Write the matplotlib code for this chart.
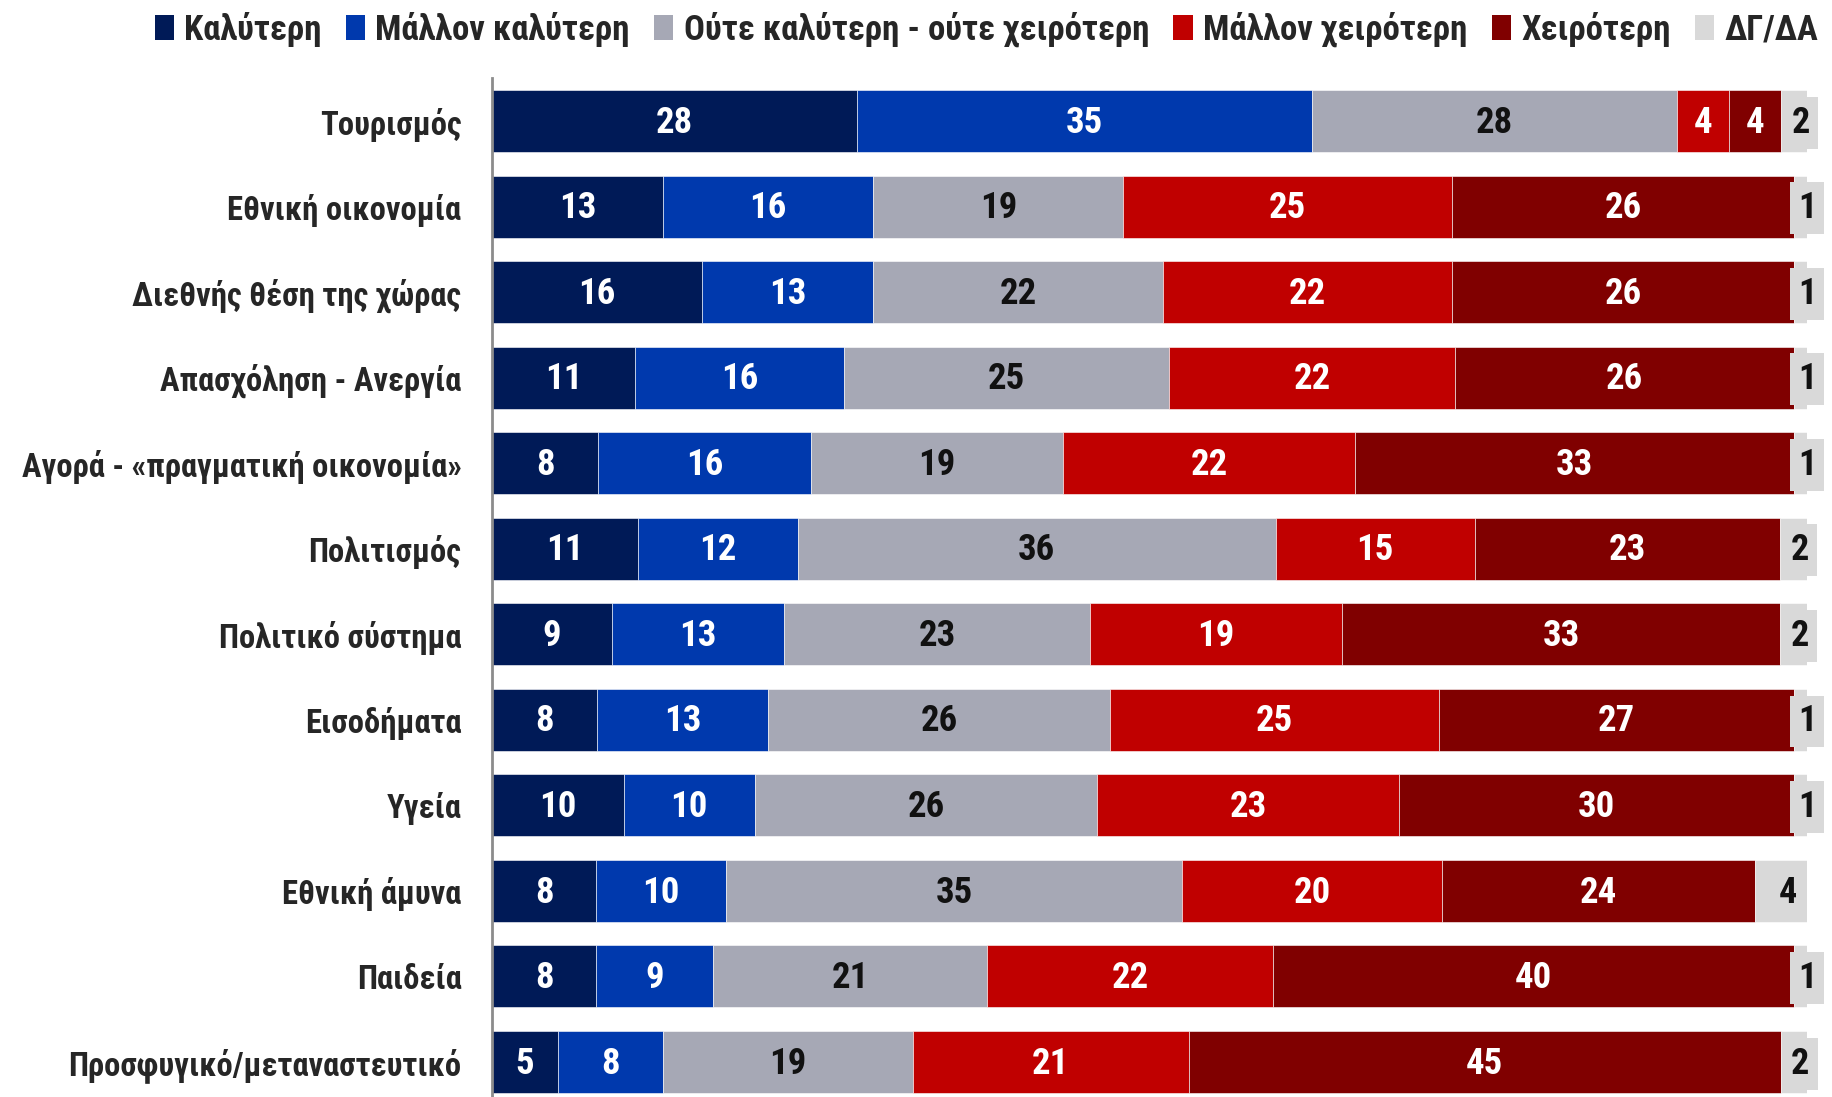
import matplotlib

matplotlib.use("Agg")
import matplotlib.pyplot as plt
from matplotlib.patches import Patch
import numpy as np

# narrow sans with Greek; falls back to DejaVu for anything missing
plt.rcParams["font.family"] = ["Roboto Condensed", "Open Sans Condensed",
                               "Liberation Sans Narrow", "DejaVu Sans"]

categories = [
    "Τουρισμός",
    "Εθνική οικονομία",
    "Διεθνής θέση της χώρας",
    "Απασχόληση - Ανεργία",
    "Αγορά - «πραγματική οικονομία»",
    "Πολιτισμός",
    "Πολιτικό σύστημα",
    "Εισοδήματα",
    "Υγεία",
    "Εθνική άμυνα",
    "Παιδεία",
    "Προσφυγικό/μεταναστευτικό",
]
series_names = ["Καλύτερη", "Μάλλον καλύτερη", "Ούτε καλύτερη - ούτε χειρότερη",
                "Μάλλον χειρότερη", "Χειρότερη", "ΔΓ/ΔΑ"]

better = [28, 13, 16, 11, 8, 11, 9, 8, 10, 8, 8, 5]
rather_better = [35, 16, 13, 16, 16, 12, 13, 13, 10, 10, 9, 8]
neither = [28, 19, 22, 25, 19, 36, 23, 26, 26, 35, 21, 19]
rather_worse = [4, 25, 22, 22, 22, 15, 19, 25, 23, 20, 22, 21]
worse = [4, 26, 26, 26, 33, 23, 33, 27, 30, 24, 40, 45]
dkna = [2, 1, 1, 1, 1, 2, 2, 1, 1, 4, 1, 2]

colors = ["#001A57", "#0039AD", "#A6A8B5", "#C00000", "#800000", "#D9D9D9"]
text_colors = ["white", "white", "#111111", "white", "white", "#111111"]

data = np.array([better, rather_better, neither, rather_worse, worse, dkna], dtype=float)
shares = data / data.sum(axis=0) * 100  # bars are drawn as 100% stacked

W, H = 1833, 1097
fig = plt.figure(figsize=(W / 100, H / 100), dpi=100)
ax = fig.add_axes([492 / W, 0.0, (1807 - 492) / W, 1 - 78 / H])

y = np.arange(len(categories))
left = np.zeros(len(categories))
for i, name in enumerate(series_names):
    ax.barh(y, shares[i], left=left, height=0.725, color=colors[i],
            edgecolor="white", linewidth=0.4, label=name)
    for yi, (l, w, v) in enumerate(zip(left, shares[i], data[i])):
        xc = l + w / 2
        if i == 5:
            # DK/NA label sits in its own little grey box, nudged right
            ax.text(xc + 0.5, yi + 0.02, f"{int(v)}", ha="center", va="center",
                    fontsize=26, fontweight="bold", color=text_colors[i],
                    bbox=dict(boxstyle="square,pad=0.22", fc="#D9D9D9", ec="none"),
                    clip_on=False)
        else:
            ax.text(xc, yi + 0.02, f"{int(v)}", ha="center", va="center",
                    fontsize=26.5, fontweight="bold", color=text_colors[i])
    left += shares[i]

ax.set_xlim(0, 100)
ax.set_ylim(11.41, -0.503)
ax.set_yticks(y)
ax.set_yticklabels(categories, fontsize=23.5, fontweight="bold", color="#262626")
ax.tick_params(axis="y", length=0, pad=22)
ax.set_xticks([])
for s in ["top", "right", "bottom"]:
    ax.spines[s].set_visible(False)
ax.spines["left"].set_color("#8C8C8C")
ax.spines["left"].set_linewidth(2)

handles = [Patch(facecolor=c, edgecolor="none") for c in colors]
fig.legend(handles, series_names, loc="upper right", bbox_to_anchor=(1.009, 1.018),
           ncol=6, frameon=False, handlelength=0.55, handleheight=0.75,
           handletextpad=0.3, columnspacing=0.7,
           prop={"size": 25, "weight": "bold"}, labelcolor="#262626")

fig.savefig("out.png", dpi=100)
